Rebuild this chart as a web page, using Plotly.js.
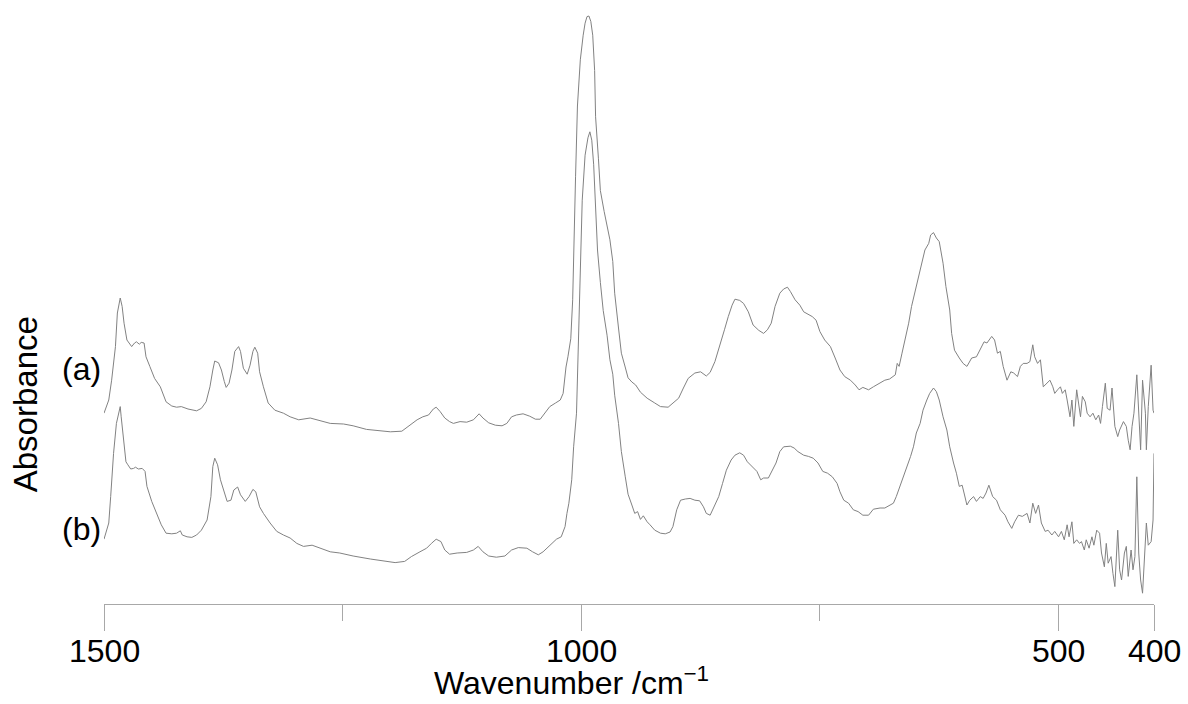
<!DOCTYPE html>
<html>
<head>
<meta charset="utf-8">
<script src="https://cdn.plot.ly/plotly-3.0.1.min.js"></script>
<style>html,body{margin:0;padding:0;background:#fff;}#chart{width:1188px;height:704px;}</style>
</head>
<body>
<div id="chart"></div>
<script>
// Spectrum (a): wavenumber (cm^-1) and absorbance (arbitrary units, offset)
const waveA = [1500,1495,1492,1488,1486,1484,1483,1481,1479,1476,1474,1471,1468,1466,1463,1461,1458,1456,1452,1447,1441,1435,1429,1424,1419,1412,1403,1398,1393,1389,1386,1384,1380,1377,1374,1372,1369,1366,1363,1359,1357,1354,1350,1347,1344,1342,1339,1337,1333,1328,1321,1312,1305,1296,1284,1270,1263,1249,1239,1225,1211,1200,1188,1181,1172,1166,1160,1155,1152,1148,1143,1138,1134,1127,1120,1113,1107,1103,1097,1090,1083,1078,1073,1068,1061,1054,1048,1043,1038,1033,1027,1022,1019,1016,1014,1011,1009,1008,1006,1004,1001,998,996,994,992,990,988,986,985,982,980,976,973,970,967,965,961,958,954,951,947,943,938,931,923,917,909,904,898,893,888,881,875,869,865,860,855,850,846,842,839,834,830,825,820,814,809,805,801,797,792,788,784,781,776,771,767,762,758,754,750,745,739,734,729,724,718,713,709,705,699,694,687,682,677,671,669,667,664,661,657,654,650,647,643,640,636,634,631,628,625,621,618,614,612,609,604,600,596,591,586,582,578,575,570,567,564,561,558,554,550,547,543,540,537,533,530,527,525,522,519,516,512,509,506,504,501,498,496,493,491,488,486,484,481,479,477,475,472,470,467,464,461,458,456,454,451,449,446,444,441,438,436,432,429,427,425,423,421,418,416,414,412,409,408,406,403,401,400];
const absA = [0.318,0.340,0.373,0.429,0.485,0.507,0.510,0.496,0.468,0.440,0.436,0.429,0.435,0.437,0.433,0.436,0.435,0.412,0.396,0.376,0.362,0.337,0.330,0.328,0.329,0.325,0.322,0.326,0.337,0.362,0.390,0.405,0.402,0.390,0.371,0.361,0.368,0.390,0.421,0.429,0.421,0.393,0.383,0.398,0.421,0.428,0.418,0.387,0.362,0.335,0.323,0.318,0.312,0.307,0.310,0.304,0.301,0.300,0.297,0.291,0.289,0.287,0.288,0.296,0.307,0.312,0.315,0.325,0.328,0.321,0.310,0.304,0.301,0.304,0.303,0.307,0.317,0.310,0.302,0.298,0.297,0.301,0.312,0.315,0.317,0.313,0.308,0.308,0.318,0.329,0.335,0.340,0.351,0.395,0.412,0.442,0.507,0.595,0.712,0.830,0.907,0.948,0.968,0.979,0.980,0.971,0.948,0.889,0.812,0.742,0.689,0.654,0.630,0.607,0.571,0.518,0.460,0.418,0.395,0.377,0.370,0.365,0.353,0.343,0.335,0.329,0.328,0.335,0.343,0.360,0.376,0.385,0.387,0.380,0.386,0.404,0.429,0.457,0.479,0.498,0.508,0.506,0.501,0.487,0.465,0.456,0.451,0.457,0.468,0.496,0.518,0.525,0.528,0.521,0.507,0.498,0.487,0.482,0.479,0.473,0.454,0.440,0.429,0.410,0.390,0.379,0.373,0.365,0.357,0.361,0.357,0.362,0.368,0.373,0.375,0.382,0.401,0.396,0.418,0.440,0.468,0.496,0.523,0.546,0.573,0.590,0.601,0.615,0.619,0.610,0.604,0.568,0.529,0.490,0.451,0.423,0.410,0.401,0.396,0.410,0.412,0.426,0.437,0.435,0.446,0.440,0.418,0.421,0.396,0.373,0.387,0.385,0.379,0.396,0.401,0.401,0.404,0.432,0.412,0.401,0.407,0.362,0.368,0.373,0.362,0.351,0.357,0.362,0.351,0.357,0.340,0.312,0.340,0.296,0.357,0.329,0.312,0.346,0.337,0.318,0.312,0.318,0.307,0.315,0.301,0.329,0.368,0.326,0.323,0.360,0.296,0.279,0.290,0.304,0.296,0.273,0.257,0.296,0.318,0.382,0.307,0.257,0.373,0.318,0.257,0.329,0.398,0.323,0.318];

// Spectrum (b)
const waveB = [1500,1495,1493,1490,1487,1484,1483,1482,1480,1477,1475,1472,1469,1467,1464,1460,1457,1455,1450,1445,1440,1435,1429,1424,1420,1418,1413,1408,1403,1398,1392,1388,1386,1384,1381,1378,1374,1371,1367,1364,1360,1357,1352,1348,1344,1341,1337,1333,1326,1319,1312,1305,1298,1291,1282,1274,1263,1253,1239,1221,1207,1195,1185,1178,1169,1162,1157,1152,1147,1143,1138,1130,1120,1113,1108,1103,1097,1089,1080,1073,1066,1057,1051,1045,1040,1033,1026,1021,1017,1015,1013,1010,1008,1005,1004,1003,1001,999,996,993,991,989,987,985,983,980,977,973,970,967,965,961,958,954,951,947,944,941,938,935,931,928,923,917,912,907,904,900,896,891,886,881,876,872,869,865,861,856,852,848,843,839,834,830,826,821,816,812,809,804,800,796,792,788,781,777,773,767,762,757,752,747,742,737,732,729,725,720,715,710,705,699,694,687,682,677,673,670,666,663,659,655,652,649,645,642,638,635,631,628,625,621,617,614,610,607,604,601,599,596,593,589,586,582,579,576,573,569,565,561,556,553,549,546,542,538,533,530,527,524,521,518,514,511,507,504,500,497,494,491,489,486,484,481,478,476,473,471,468,465,463,460,457,455,452,450,448,445,443,441,438,436,434,431,429,427,424,422,420,418,416,414,412,409,408,406,403,401,400];
const absB = [0.108,0.135,0.179,0.251,0.301,0.326,0.329,0.312,0.279,0.237,0.232,0.225,0.226,0.228,0.225,0.226,0.221,0.196,0.171,0.151,0.132,0.118,0.117,0.118,0.122,0.115,0.112,0.111,0.115,0.123,0.140,0.179,0.229,0.243,0.232,0.207,0.185,0.171,0.173,0.190,0.195,0.182,0.171,0.179,0.191,0.187,0.162,0.151,0.135,0.121,0.115,0.110,0.101,0.096,0.098,0.093,0.087,0.085,0.080,0.075,0.072,0.069,0.071,0.079,0.087,0.093,0.101,0.108,0.104,0.090,0.083,0.085,0.086,0.090,0.096,0.087,0.080,0.078,0.080,0.090,0.094,0.093,0.087,0.082,0.087,0.098,0.108,0.112,0.129,0.151,0.168,0.207,0.262,0.318,0.373,0.457,0.573,0.673,0.748,0.777,0.787,0.773,0.732,0.657,0.590,0.536,0.489,0.448,0.407,0.383,0.348,0.301,0.254,0.213,0.183,0.165,0.151,0.154,0.141,0.147,0.137,0.132,0.123,0.118,0.117,0.120,0.129,0.157,0.173,0.175,0.176,0.173,0.172,0.162,0.151,0.148,0.161,0.179,0.201,0.223,0.240,0.248,0.252,0.248,0.237,0.229,0.221,0.207,0.210,0.210,0.223,0.235,0.254,0.262,0.263,0.260,0.254,0.248,0.246,0.243,0.235,0.221,0.218,0.212,0.201,0.187,0.173,0.168,0.157,0.154,0.148,0.148,0.158,0.160,0.160,0.165,0.168,0.179,0.196,0.212,0.229,0.246,0.262,0.285,0.301,0.323,0.340,0.351,0.360,0.354,0.340,0.312,0.290,0.262,0.235,0.218,0.196,0.198,0.185,0.165,0.173,0.179,0.171,0.179,0.176,0.185,0.198,0.179,0.173,0.157,0.148,0.137,0.126,0.137,0.148,0.146,0.151,0.135,0.168,0.151,0.165,0.135,0.121,0.123,0.115,0.121,0.112,0.121,0.107,0.132,0.112,0.137,0.101,0.107,0.101,0.104,0.090,0.107,0.093,0.112,0.098,0.123,0.118,0.085,0.062,0.101,0.068,0.079,0.051,0.029,0.123,0.057,0.040,0.085,0.096,0.046,0.090,0.057,0.079,0.212,0.085,0.040,0.018,0.107,0.135,0.098,0.104,0.140,0.251];

const majorTicks = [1500, 1000, 500, 400];
const majorLabels = ['1500', '1000', '500', '400'];
const minorTicks = [1250, 750];
const seriesLabels = ['(a)', '(b)'];
const xTitle = 'Wavenumber /cm<sup>\u22121</sup>';
const yTitle = 'Absorbance';

const FONT = 'Liberation Sans, Arial, Helvetica, sans-serif';
const lineStyle = {color: '#828282', width: 1};

const traces = [
  {x: waveA, y: absA, type: 'scatter', mode: 'lines', line: lineStyle, hoverinfo: 'skip'},
  {x: waveB, y: absB, type: 'scatter', mode: 'lines', line: lineStyle, hoverinfo: 'skip'}
];

const textFont = {family: FONT, size: 32, color: '#000'};

// tick labels placed at their tick values on the x axis
const tickLabelAnns = majorTicks.map((v, i) => ({
  text: majorLabels[i], xref: 'x', yref: 'paper', x: v, y: -0.0783,
  showarrow: false, xanchor: 'center', yanchor: 'middle', font: textFont
}));

const layout = {
  width: 1188, height: 704,
  margin: {l: 104, r: 34, t: 4, b: 100},
  paper_bgcolor: '#fff', plot_bgcolor: '#fff',
  showlegend: false,
  font: textFont,
  xaxis: {
    range: [1500, 400],
    showgrid: false, zeroline: false,
    showline: true, linecolor: '#a8a8a8', linewidth: 1,
    ticks: 'outside', ticklen: 26, tickcolor: '#a8a8a8', tickwidth: 1,
    tickmode: 'array', tickvals: majorTicks, ticktext: majorLabels,
    showticklabels: false,
    minor: {tickmode: 'array', tickvals: minorTicks, ticks: 'outside', ticklen: 16, tickcolor: '#a8a8a8', tickwidth: 1, showgrid: false},
    fixedrange: true
  },
  yaxis: {range: [0, 1], visible: false, fixedrange: true},
  annotations: tickLabelAnns.concat([
    {text: xTitle, xref: 'paper', yref: 'paper', x: 0.4457, y: -0.129, showarrow: false, xanchor: 'center', yanchor: 'middle', font: textFont},
    {text: yTitle, xref: 'paper', yref: 'paper', x: -0.0752, y: 0.333, showarrow: false, textangle: -90, xanchor: 'center', yanchor: 'middle', font: {family: FONT, size: 33, color: '#000'}},
    {text: seriesLabels[0], xref: 'paper', yref: 'paper', x: -0.0219, y: 0.392, showarrow: false, xanchor: 'center', yanchor: 'middle', font: textFont},
    {text: seriesLabels[1], xref: 'paper', yref: 'paper', x: -0.0219, y: 0.125, showarrow: false, xanchor: 'center', yanchor: 'middle', font: textFont}
  ])
};

Plotly.newPlot('chart', traces, layout, {staticPlot: true, displayModeBar: false});
</script>
</body>
</html>
